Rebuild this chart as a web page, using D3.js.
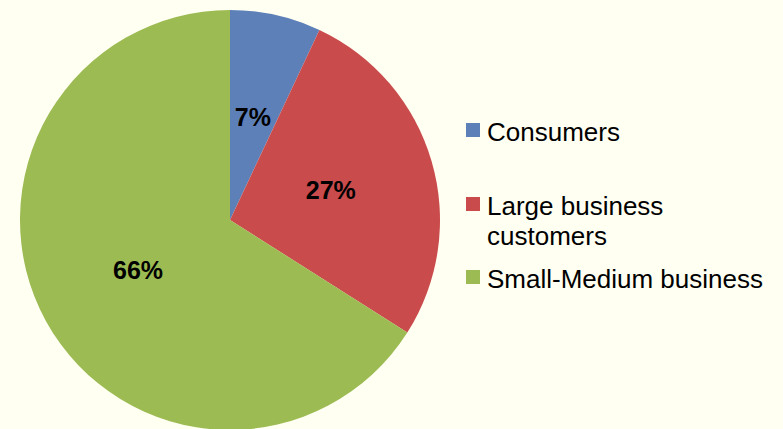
<!DOCTYPE html>
<html>
<head>
<meta charset="utf-8">
<script src="https://cdn.jsdelivr.net/npm/d3@7"></script>
<style>
  html, body { margin: 0; padding: 0; background: #FFFFF2; }
  svg { display: block; }
</style>
</head>
<body>
<svg id="chart" width="783" height="429"></svg>
<script>
// Customer segments and their share of the total
const categories = ["Consumers", "Large business customers", "Small-Medium business"];
const legendLines = [["Consumers"], ["Large business", "customers"], ["Small-Medium business"]];
const shares = [7, 27, 66];
const colors = ["#5E80B9", "#CA4B4C", "#9CBB52"];

const svg = d3.select("#chart");
const cx = 230, cy = 220, radius = 210;

const pie = d3.pie().sort(null).value(d => d);
const arcs = pie(shares);
const arc = d3.arc().innerRadius(0).outerRadius(radius);

const color = d3.scaleOrdinal().domain(categories).range(colors);

const g = svg.append("g").attr("transform", `translate(${cx},${cy})`);

g.selectAll("path.slice")
  .data(arcs)
  .join("path")
  .attr("class", "slice")
  .attr("d", arc)
  .attr("fill", (d, i) => color(categories[i]));

// Percentage labels at the centroid of each slice
g.selectAll("text.pct")
  .data(arcs)
  .join("text")
  .attr("class", "pct")
  .attr("transform", d => `translate(${arc.centroid(d)})`)
  .attr("text-anchor", "middle")
  .attr("dy", "0.35em")
  .attr("font-family", "Liberation Sans, Arial, sans-serif")
  .attr("font-weight", "bold")
  .attr("font-size", 25)
  .attr("fill", "#000")
  .text(d => d.data + "%");

// Legend
const legendOffsets = [0, 74, 147];
const items = svg.append("g")
  .selectAll("g.item")
  .data(categories)
  .join("g")
  .attr("class", "item")
  .attr("transform", (d, i) => `translate(466, ${123 + legendOffsets[i]})`);

items.append("rect")
  .attr("width", 14)
  .attr("height", 14)
  .attr("fill", d => color(d));

items.append("text")
  .attr("x", 21)
  .attr("y", 18)
  .attr("font-family", "Liberation Sans, Arial, sans-serif")
  .attr("font-size", 26)
  .attr("fill", "#000")
  .selectAll("tspan")
  .data((d, i) => legendLines[i])
  .join("tspan")
  .attr("x", 21)
  .attr("dy", (d, j) => j === 0 ? 0 : 30)
  .text(d => d);
</script>
</body>
</html>
